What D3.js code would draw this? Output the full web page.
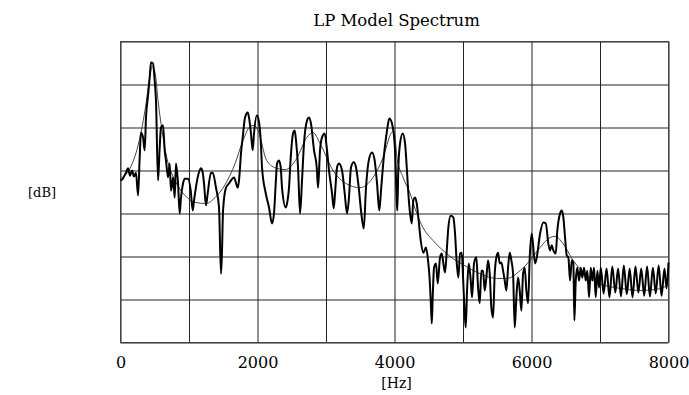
<!DOCTYPE html>
<html>
<head>
<meta charset="utf-8">
<script src="https://cdn.jsdelivr.net/npm/d3@7"></script>
<style>
  body { margin: 0; background: #fff; }
  text { font-family: "DejaVu Serif", "Liberation Serif", serif; fill: #000; }
</style>
</head>
<body>
<script>
// spectrum: frequency [Hz] and level [dB]
var specHz = [0,35,51,80,110,139,168,197,226,256,280,299,329,353,372,402,426,445,475,499,518,548,572,591,621,645,664,694,718,737,767,791,810,840,864,883,913,937,986,1025,1054,1073,1127,1175,1200,1219,1248,1273,1321,1346,1394,1438,1467,1482,1497,1540,1584,1657,1711,1730,1759,1784,1818,1857,1876,1905,1930,1949,1989,2018,2047,2066,2120,2168,2212,2241,2266,2285,2314,2339,2358,2412,2431,2460,2485,2519,2543,2562,2592,2621,2650,2679,2723,2752,2781,2825,2865,2884,2913,2942,2981,3015,3044,3088,3113,3132,3161,3190,3234,3273,3307,3332,3365,3405,3438,3478,3511,3551,3584,3624,3672,3711,3745,3778,3803,3843,3891,3924,3964,3989,4008,4033,4041,4056,4081,4120,4154,4179,4202,4227,4252,4275,4300,4325,4348,4383,4421,4460,4494,4508,4529,4544,4558,4577,4606,4631,4665,4690,4713,4738,4763,4786,4821,4859,4884,4909,4932,4957,4982,5001,5025,5040,5059,5084,5113,5132,5161,5195,5220,5244,5268,5293,5317,5341,5366,5390,5414,5439,5463,5487,5512,5536,5560,5585,5609,5633,5658,5682,5706,5731,5755,5779,5804,5828,5852,5877,5901,5925,5950,5974,6003,6052,6077,6125,6173,6208,6246,6271,6296,6319,6354,6377,6417,6442,6465,6490,6515,6538,6563,6588,6611,6626,6646,6669,6694,6719,6742,6767,6792,6815,6840,6865,6888,6913,6938,6961,6986,7011,7053,7096,7138,7180,7223,7264,7306,7348,7391,7433,7475,7518,7560,7602,7645,7687,7729,7772,7814,7856,7899,7941,7972,8000];
var specDb = [37.7,38.1,38.6,39.5,40.5,38.8,40.0,38.6,39.5,34.2,43.0,48.8,47.7,44.7,52.3,57.4,61.6,65.1,64.9,60.9,56.3,37.7,45.3,50.0,50.5,44.7,42.3,38.4,41.6,35.3,38.4,33.7,41.6,37.0,30.0,33.7,37.0,38.1,38.1,35.3,30.7,33.0,38.4,40.5,39.5,37.0,31.9,34.7,39.5,39.5,36.0,31.4,16.0,21.4,30.7,36.0,37.0,38.4,36.0,37.7,44.0,47.7,52.3,53.5,52.3,48.6,44.7,48.6,52.8,51.6,47.0,40.7,34.7,31.4,27.7,30.0,37.0,41.6,42.3,40.7,36.0,31.4,32.3,36.0,43.0,48.6,49.3,47.0,40.7,30.0,37.7,46.3,51.6,52.3,50.9,44.7,40.7,36.0,44.7,47.7,48.6,44.7,40.0,34.7,31.2,34.7,40.7,41.6,40.0,34.7,30.0,33.0,40.7,41.9,40.7,36.0,30.7,26.5,36.0,42.3,44.2,42.3,37.0,30.7,35.3,43.0,49.3,52.1,50.9,48.6,44.7,33.0,30.7,40.7,46.3,48.6,46.3,40.7,34.7,30.0,27.7,33.0,33.7,32.3,29.1,23.7,20.9,22.1,18.4,16.0,9.8,4.4,10.5,17.4,18.4,13.7,19.8,20.7,18.4,16.3,21.4,26.7,29.5,29.1,25.3,18.4,15.1,20.7,20.9,15.1,6.7,3.5,12.1,18.4,14.4,10.5,18.4,19.8,12.8,9.1,16.7,16.7,12.1,15.1,19.1,16.0,8.1,5.8,16.0,19.8,20.9,18.4,18.6,16.7,14.4,12.1,17.4,20.9,19.1,16.0,3.5,10.5,15.1,12.1,7.4,16.0,17.4,12.1,9.1,19.8,25.3,18.4,19.8,25.3,27.9,27.7,23.0,21.4,22.6,21.4,20.7,26.0,30.0,30.7,29.1,24.4,20.2,19.8,14.4,19.1,18.4,5.1,14.4,17.4,14.4,17.4,15.1,17.4,14.4,16.7,10.5,17.4,14.4,17.4,10.5,16.7,12.8,17.4,11.4,17.2,10.5,17.7,11.6,17.2,10.7,17.9,11.2,17.2,10.5,17.7,11.6,17.2,10.9,17.7,10.7,17.4,11.4,17.9,10.9,17.2,12.6,18.6];

// LP model envelope
var envHz = [0,139,256,358,431,460,504,548,606,679,796,942,1088,1248,1380,1526,1672,1789,1891,1949,2008,2135,2281,2402,2573,2719,2811,2913,3103,3351,3497,3687,3833,3949,3993,4037,4125,4227,4325,4417,4563,4709,4855,5001,5250,5493,5639,5833,5979,6125,6271,6344,6461,6607,6807,7001,7293,7585,7804,8000];
var envDb = [38.1,40.5,45.8,54.0,62.1,64.2,62.8,56.3,49.3,42.8,37.7,34.2,32.6,32.3,33.7,36.7,41.6,47.0,50.2,50.5,49.3,42.3,40.5,40.2,42.8,47.7,48.8,46.3,40.0,36.5,36.0,38.4,43.0,48.6,49.3,43.0,38.4,34.7,30.0,26.7,23.7,21.4,19.5,18.1,16.0,14.9,14.9,16.7,19.1,22.1,24.4,24.7,23.0,19.1,15.6,13.7,12.6,12.1,12.3,13.3];

var xGrid = [0,1000,2000,3000,4000,5000,6000,7000,8000];
var xLabels = [0,2000,4000,6000,8000];
var yGrid = [0,10,20,30,40,50,60,70];

var margin = {top: 41.5, right: 20, bottom: 53, left: 120.5},
    width = 548,
    height = 301;

var svg = d3.select("body").append("svg")
    .attr("width", 689)
    .attr("height", 395)
  .append("g")
    .attr("transform", "translate(" + margin.left + "," + margin.top + ")");

var x = d3.scaleLinear().domain([0, 8000]).range([0, width]);
var y = d3.scaleLinear().domain([0, 70]).range([height, 0]);

// grid
svg.append("g")
    .attr("class", "grid")
    .attr("transform", "translate(0," + height + ")")
    .call(d3.axisBottom(x).tickValues(xGrid).tickSize(-height).tickFormat(""));
svg.append("g")
    .attr("class", "grid")
    .call(d3.axisLeft(y).tickValues(yGrid).tickSize(-width).tickFormat(""));
svg.selectAll(".grid .domain").remove();
svg.selectAll(".grid line").attr("stroke", "#222").attr("stroke-width", 1);

svg.append("rect")
    .attr("width", width)
    .attr("height", height)
    .attr("fill", "none")
    .attr("stroke", "#444");

// x tick labels
var xAxis = svg.append("g")
    .attr("transform", "translate(0," + height + ")")
    .call(d3.axisBottom(x).tickValues(xLabels).tickSize(0).tickPadding(14).tickFormat(d3.format("d")));
xAxis.select(".domain").remove();
xAxis.selectAll("text")
    .style("font-family", "'DejaVu Serif', serif")
    .style("font-size", "16px");

// spectrum
var spec = d3.zip(specHz, specDb);
var env = d3.zip(envHz, envDb);

svg.append("path")
    .datum(env)
    .attr("fill", "none")
    .attr("stroke", "#333")
    .attr("stroke-width", 0.9)
    .attr("d", d3.line()
      .curve(d3.curveMonotoneX)
      .x(function(d) { return x(d[0]); })
      .y(function(d) { return y(d[1]); }));

svg.append("path")
    .datum(spec)
    .attr("fill", "none")
    .attr("stroke", "#000")
    .attr("stroke-width", 2)
    .attr("stroke-linejoin", "round")
    .attr("d", d3.line()
      .curve(d3.curveMonotoneX)
      .x(function(d) { return x(d[0]); })
      .y(function(d) { return y(d[1]); }));

// labels
svg.append("text")
    .attr("x", width / 2 + 2)
    .attr("y", -16)
    .attr("text-anchor", "middle")
    .style("font-size", "16.5px")
    .text("LP Model Spectrum");

svg.append("text")
    .attr("x", width / 2 + 2)
    .attr("y", height + 45)
    .attr("text-anchor", "middle")
    .style("font-size", "14px")
    .text("[Hz]");

svg.append("text")
    .attr("x", -margin.left + 42)
    .attr("y", height / 2 + 5)
    .attr("text-anchor", "middle")
    .style("font-size", "13px")
    .text("[dB]");
</script>
</body>
</html>
